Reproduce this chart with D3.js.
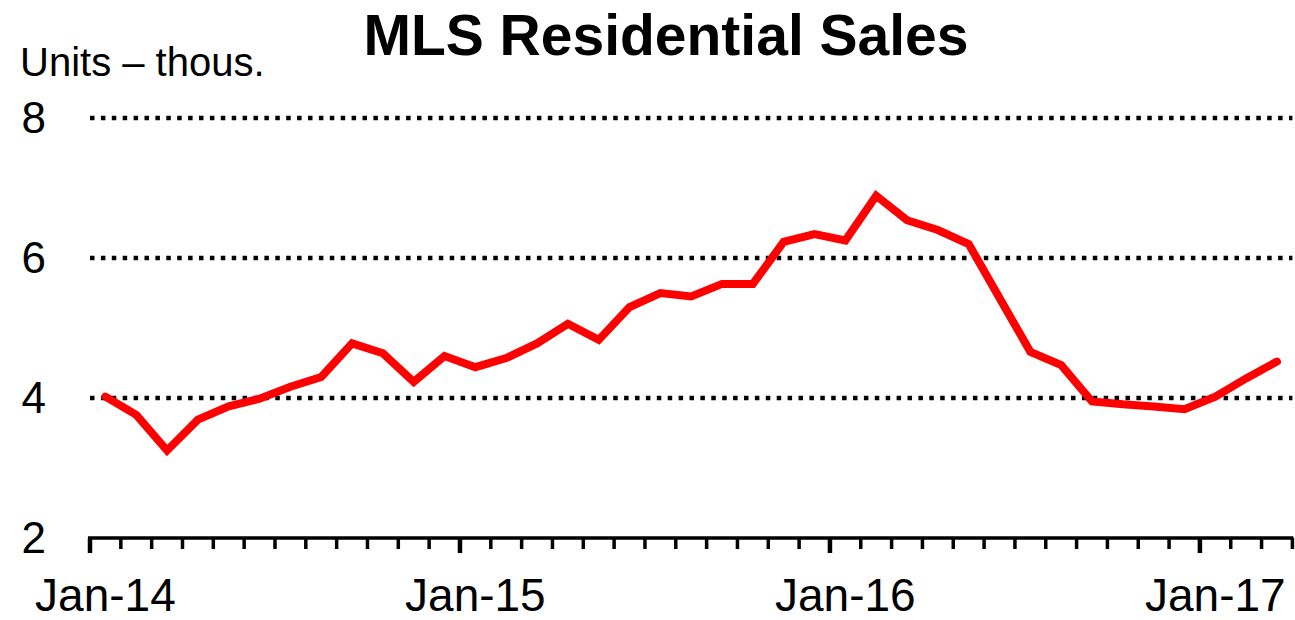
<!DOCTYPE html>
<html>
<head>
<meta charset="utf-8">
<script src="https://cdn.jsdelivr.net/npm/d3@7"></script>
<style>
  html, body { margin: 0; padding: 0; background: #fff; }
  svg text { font-family: "Liberation Sans", Arial, sans-serif; fill: #000; }
</style>
</head>
<body>
<div id="chart"></div>
<script>
// monthly categories, Jan-14 .. Mar-17
var months = d3.timeMonth.range(new Date(2014, 0, 1), new Date(2017, 3, 1));

// MLS residential sales, thousands of units
var sales = [
    4.02, 3.76, 3.25, 3.69, 3.88, 3.99, 4.16, 4.30, 4.78, 4.64, 4.23, 4.60,
    4.44, 4.57, 4.78, 5.06, 4.83, 5.30, 5.50, 5.45, 5.63, 5.63, 6.23, 6.34,
    6.25, 6.89, 6.54, 6.40, 6.20, 5.43, 4.66, 4.47, 3.95, 3.91, 3.88, 3.84,
    4.02, 4.28, 4.52
];

var yTicks = [2, 4, 6, 8];
var xLabelFmt = d3.timeFormat("%b-%y");

var width = 1295, height = 620;
var plotLeft = 90, plotRight = 1292.4, plotTop = 118, plotBottom = 538;

var svg = d3.select("#chart").append("svg")
    .attr("width", width)
    .attr("height", height);

var x = d3.scaleBand()
    .domain(d3.range(months.length))
    .range([plotLeft, plotRight])
    .padding(0);

var y = d3.scaleLinear()
    .domain([2, 8])
    .range([plotBottom, plotTop]);

// dotted gridlines
svg.append("g")
    .selectAll("line")
    .data(yTicks.filter(function(d) { return d > 2; }))
    .enter().append("line")
    .attr("x1", plotLeft)
    .attr("x2", plotRight)
    .attr("y1", function(d) { return y(d); })
    .attr("y2", function(d) { return y(d); })
    .attr("stroke", "#000")
    .attr("stroke-width", 4.5)
    .attr("stroke-dasharray", "4.5 6.4");

// y labels
svg.append("g")
    .selectAll("text")
    .data(yTicks)
    .enter().append("text")
    .attr("x", 46)
    .attr("y", function(d) { return y(d) + 15; })
    .attr("text-anchor", "end")
    .attr("font-size", "44px")
    .text(function(d) { return d; });

// x axis line + month ticks
var boundaries = d3.range(months.length + 1);
svg.append("g")
    .selectAll("line")
    .data(boundaries)
    .enter().append("line")
    .attr("x1", function(i) { return plotLeft + i * x.bandwidth(); })
    .attr("x2", function(i) { return plotLeft + i * x.bandwidth(); })
    .attr("y1", plotBottom)
    .attr("y2", function(i) { return (i % 12 === 0) ? plotBottom + 15 : plotBottom + 11; })
    .attr("stroke", "#000")
    .attr("stroke-width", function(i) { return (i % 12 === 0) ? 4.5 : 3.5; });

svg.append("line")
    .attr("x1", plotLeft - 2)
    .attr("x2", plotRight + 1)
    .attr("y1", plotBottom)
    .attr("y2", plotBottom)
    .attr("stroke", "#000")
    .attr("stroke-width", 3.5);

// x labels on January
svg.append("g")
    .selectAll("text")
    .data(months.map(function(m, i) { return i; }).filter(function(i) { return months[i].getMonth() === 0; }))
    .enter().append("text")
    .attr("x", function(i) { return x(i) + x.bandwidth() / 2; })
    .attr("y", 611)
    .attr("text-anchor", "middle")
    .attr("font-size", "46px")
    .text(function(i) { return xLabelFmt(months[i]); });

// sales line
var line = d3.line()
    .x(function(d, i) { return x(i) + x.bandwidth() / 2; })
    .y(function(d) { return y(d); });

svg.append("path")
    .datum(sales)
    .attr("d", line)
    .attr("fill", "none")
    .attr("stroke", "#ff0000")
    .attr("stroke-width", 8)
    .attr("stroke-linecap", "round");

// title and unit label
svg.append("text")
    .attr("x", 666)
    .attr("y", 55)
    .attr("text-anchor", "middle")
    .attr("font-size", "57px")
    .attr("font-weight", "bold")
    .text("MLS Residential Sales");

svg.append("text")
    .attr("x", 20)
    .attr("y", 76)
    .attr("font-size", "40px")
    .text("Units – thous.");
</script>
</body>
</html>
